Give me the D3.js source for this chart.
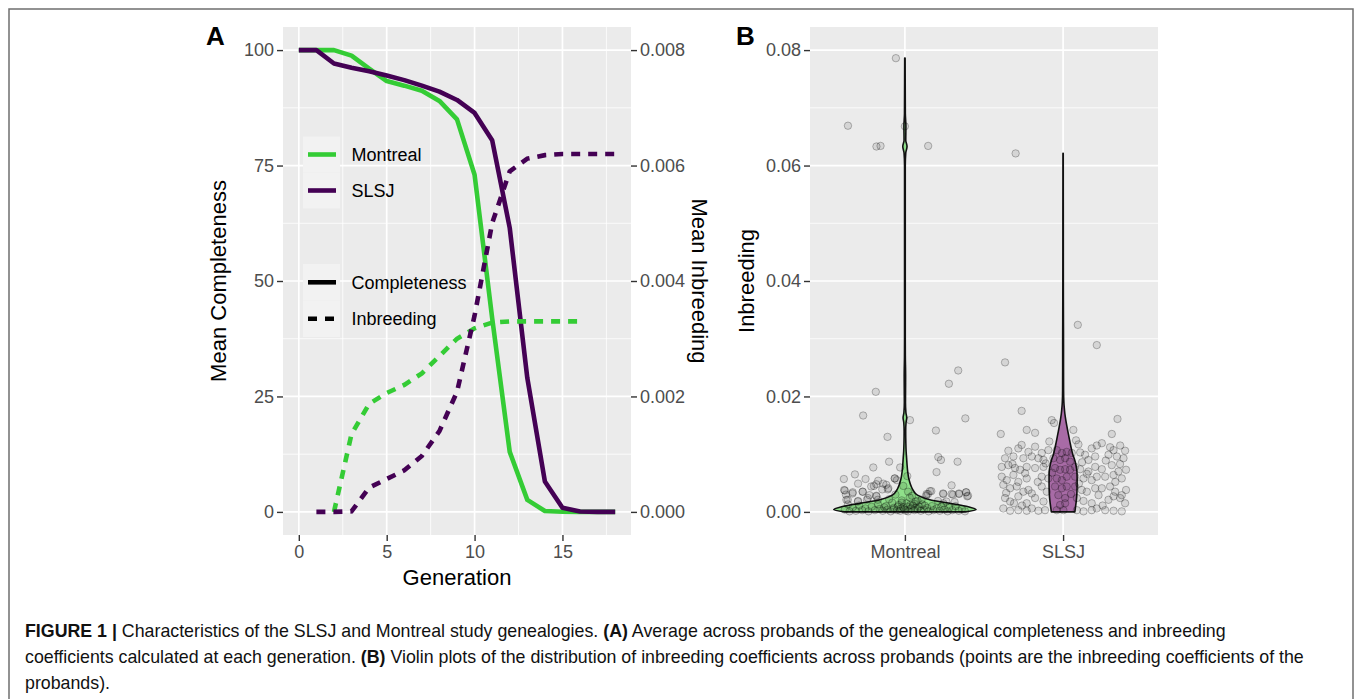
<!DOCTYPE html>
<html><head><meta charset="utf-8">
<script src="https://cdn.jsdelivr.net/npm/d3@7/dist/d3.min.js"></script>
<style>
body{margin:0;background:#fff;}
text{font-family:"Liberation Sans",Arial,Helvetica,sans-serif;}
</style>
</head><body>
<svg id="chart" width="1355" height="699"></svg>
<script>
// ---------------- DATA ----------------
const generations = [0,1,2,3,4,5,6,7,8,9,10,11,12,13,14,15,16,17,18];
const montrealCompleteness = [100,100,100,98.8,96,93.3,92.3,91.2,89,85,73,42,13,2.6,0.2,0.05,0,0,0];
const slsjCompleteness     = [100,100,97.1,96.2,95.4,94.5,93.5,92.3,91,89.2,86.4,80.5,61.5,29,6.6,0.9,0.1,0,0];
const montrealInbGen = [2,3,4,5,6,7,8,9,10,11,12,13,14,15,16];
const montrealInbreeding = [0,0.00135,0.00187,0.00206,0.0022,0.0024,0.0027,0.003,0.00318,0.00328,0.0033,0.0033,0.0033,0.0033,0.0033];
const slsjInbGen = [1,2,3,4,5,6,7,8,9,10,11,12,13,14,15,16,17,18];
const slsjInbreeding = [0,0,0.00001,0.00042,0.00057,0.00072,0.00097,0.0014,0.00208,0.0034,0.005,0.0059,0.00612,0.00618,0.0062,0.0062,0.0062,0.0062];

const xTicksA = [0,5,10,15];
const yTicksLeft = [0,25,50,75,100];
const yTicksRight = [0,0.002,0.004,0.006,0.008];
const yTicksB = [0,0.02,0.04,0.06,0.08];
const groups = ["Montreal","SLSJ"];

// violin profiles: inbreeding level and relative density width
const montrealViolinY = [0,0.0004,0.0009,0.0015,0.0021,0.0029,0.0038,0.0048,0.0058,0.007,0.0082,0.0093,0.0105,0.012,0.014,0.0155,0.0163,0.0172,0.019,0.021,0.0235,0.027,0.03,0.04,0.05,0.06,0.0622,0.0633,0.0644,0.0668,0.069,0.075,0.0786];
const montrealViolinW = [0.85,1.0,0.89,0.63,0.35,0.176,0.113,0.077,0.054,0.039,0.03,0.024,0.017,0.013,0.011,0.016,0.026,0.014,0.008,0.009,0.010,0.006,0.005,0.005,0.005,0.005,0.012,0.03,0.012,0.014,0.006,0.004,0.003];
const slsjViolinY = [0,0.001,0.002,0.003,0.004,0.005,0.006,0.007,0.008,0.009,0.01,0.011,0.012,0.013,0.014,0.015,0.016,0.017,0.018,0.019,0.021,0.025,0.029,0.033,0.04,0.05,0.0621];
const slsjViolinW = [0.165,0.176,0.186,0.193,0.196,0.197,0.197,0.194,0.183,0.163,0.135,0.115,0.098,0.082,0.066,0.051,0.037,0.025,0.017,0.011,0.007,0.006,0.006,0.005,0.0035,0.003,0.002];

// jittered probands: [jitter offset, inbreeding]
const montrealPoints = [
[-0.36,0.0669],[-0.18,0.0633],[-0.154,0.0634],[-0.057,0.0786],[0.0,0.0668],[0.147,0.0634],
[-0.184,0.0208],[-0.264,0.0167],[-0.11,0.013],[0.278,0.0222],[0.337,0.0245],[0.382,0.0162],[0.032,0.0159],[0.196,0.0141],
[0.211,0.0095],[0.228,0.009],[0.333,0.0087],[0.2,0.0069],[0.295,0.0046],[-0.1,0.0087],[-0.2,0.0077],[-0.316,0.0065],
[-0.386,0.0057],[-0.249,0.0057],[-0.296,0.0049],[-0.169,0.0054],[-0.196,0.0045],[-0.137,0.0049],[-0.105,0.0041],[-0.063,0.0058],
[-0.38,0.0037],[-0.33,0.0034],[-0.268,0.0035],[-0.37,0.0021],[-0.296,0.0019],[-0.24,0.0021],[-0.18,0.0027],[0.137,0.0031],
[0.158,0.0036],[0.243,0.0031],[0.295,0.0031],[0.342,0.0031],[0.386,0.0034],[0.394,0.0027],[0.243,0.0015],[0.105,0.0021],[-0.03,0.0077],
[-0.213,0.0044],[-0.181,0.0048],[-0.118,0.0047],[-0.143,0.0039],[-0.065,0.0058],[-0.051,0.0055],[-0.384,0.0038],[-0.373,0.003],
[-0.331,0.0032],[-0.266,0.0035],[-0.224,0.0029],[-0.181,0.0028],[-0.108,0.0039],[0.146,0.0031],[0.167,0.0036],[0.241,0.0032],
[0.304,0.003],[0.342,0.0032],[0.388,0.0034],[0.399,0.0028],[-0.361,0.0021],[-0.297,0.0018],[-0.234,0.0024],[-0.171,0.0021],
[0.135,0.0028],[0.209,0.0019],[0.262,0.0018],[0.314,0.0017],
[-0.38,0.0004],[-0.35,0.0001],[-0.33,0.0008],[-0.31,0.0002],[-0.29,0.0011],[-0.27,0.0003],[-0.25,0.0006],[-0.23,0.0001],
[-0.21,0.0009],[-0.19,0.0003],[-0.17,0.0013],[-0.16,0.0005],[-0.14,0.0002],[-0.12,0.001],[-0.11,0.0004],[-0.09,0.0001],
[-0.08,0.0016],[-0.07,0.0007],[-0.05,0.0003],[-0.04,0.0012],[-0.03,0.0002],[-0.02,0.002],[-0.01,0.0008],[0.0,0.0004],
[0.01,0.0015],[0.02,0.0001],[0.03,0.0025],[0.04,0.0006],[0.05,0.0011],[0.06,0.0003],[0.07,0.0018],[0.08,0.0005],
[0.09,0.0009],[0.1,0.0002],[0.11,0.0013],[0.12,0.0004],[0.14,0.0007],[0.15,0.0001],[0.17,0.001],[0.18,0.0003],
[0.2,0.0006],[0.22,0.0002],[0.23,0.0009],[0.25,0.0004],[0.27,0.0001],[0.28,0.0007],[0.3,0.0003],[0.32,0.001],
[0.34,0.0002],[0.36,0.0005],[0.38,0.0001],[-0.36,0.0013],[-0.06,0.003],[0.02,0.0035],[-0.01,0.0045],[0.045,0.0028],
[0.015,0.0062],[-0.02,0.0016],[0.06,0.0014],[-0.1,0.0022],[0.08,0.0019],[-0.045,0.0009],[0.035,0.0012],[-0.075,0.0004],
[0.065,0.0007],[-0.025,0.0006],[0.015,0.0009],[-0.13,0.0008],[0.125,0.0011],[0.005,0.0002]
];
const slsjPoints = [
[-0.30,0.0621],[0.093,0.0324],[0.213,0.0289],[-0.367,0.0259],[-0.262,0.0175],[0.344,0.0161],[-0.394,0.0135],[-0.23,0.0142],
[-0.177,0.0137],[-0.072,0.0159],[-0.057,0.0154],[0.065,0.0142],[0.308,0.0135],[0.082,0.0124],[0.097,0.0117],[-0.087,0.0122],
[-0.346,0.0106],[-0.283,0.011],[-0.262,0.0116],[-0.219,0.0104],[-0.177,0.0113],[-0.135,0.0102],[-0.093,0.0107],
[0.181,0.011],[0.213,0.0115],[0.245,0.0119],[0.297,0.0112],[0.319,0.0107],[0.361,0.0115],[0.392,0.0106],
[0.203,0.0096],[0.287,0.0099],[0.34,0.0096],[0.382,0.0093],
[-0.367,0.0093],[-0.314,0.0096],[-0.251,0.0093],[-0.198,0.0096],[-0.156,0.0093],[-0.124,0.009],[-0.061,0.0093],
[0.055,0.0102],[0.108,0.0103],[0.139,0.0099],[0.16,0.009],
[-0.388,0.0078],[-0.346,0.0081],[-0.304,0.0076],[-0.272,0.0073],[-0.23,0.0078],[-0.177,0.0076],[-0.124,0.0078],
[0.076,0.0078],[0.108,0.0074],[0.16,0.007],[0.203,0.0078],[0.245,0.0074],[0.308,0.0081],[0.35,0.007],[0.398,0.0073],
[-0.388,0.0061],[-0.356,0.0055],[-0.314,0.0064],[-0.283,0.0052],[-0.23,0.0058],[-0.135,0.0061],[-0.093,0.0058],
[0.076,0.0061],[0.129,0.0058],[0.181,0.0055],[0.213,0.0061],[0.266,0.0061],[0.319,0.0064],[0.371,0.0058],
[-0.378,0.0047],[-0.335,0.0041],[-0.293,0.0044],[-0.251,0.0035],[-0.219,0.0038],[-0.198,0.0032],[-0.135,0.0044],[-0.103,0.0035],
[0.076,0.0044],[0.118,0.0038],[0.15,0.0035],[0.203,0.0041],[0.245,0.0041],[0.297,0.0044],[0.329,0.0035],[0.371,0.0029],[0.398,0.0038],
[-0.367,0.0024],[-0.335,0.0018],[-0.283,0.0027],[-0.23,0.0015],[-0.177,0.0024],[-0.124,0.0018],
[0.087,0.0024],[0.129,0.0019],[0.181,0.0015],[0.224,0.0029],[0.287,0.0021],[0.319,0.0027],[0.361,0.0024],[0.392,0.0015],
[-0.378,0.0006],[-0.335,0.0002],[-0.283,0.0003],[-0.23,0.0002],[-0.198,0.0006],[-0.156,0.0002],[-0.114,0.0003],
[0.087,0.0003],[0.129,0.0001],[0.181,0.0003],[0.213,0.0006],[0.266,0.0003],[0.319,0.0002],[0.371,0.0001],
[-0.04,0.0107],[-0.008,0.0102],[0.023,0.0104],[-0.019,0.009],[0.013,0.0093],[0.044,0.0087],[-0.051,0.0076],[-0.019,0.0073],
[0.013,0.0074],[0.044,0.0073],[-0.04,0.0058],[-0.008,0.0055],[0.023,0.0061],[-0.051,0.0044],[-0.008,0.0041],[0.023,0.0044],
[-0.03,0.0029],[0.013,0.0024],[-0.019,0.0012],[0.013,0.0015],[-0.04,0.0003],[0.002,0.0003],
[-0.32,0.0083],[-0.24,0.0067],[-0.16,0.0052],[-0.07,0.0068],[0.12,0.0086],[0.27,0.0089],[0.33,0.0052],[-0.36,0.0033],
[0.25,0.0011],[-0.26,0.0011],[0.15,0.0066],[-0.11,0.0084],[0.36,0.0083],[0.1,0.0049],[-0.31,0.0015],[0.05,0.0031]
];

// ---------------- DRAW ----------------
const svg = d3.select("#chart");
const green = "#34cc35", purple = "#440154";
const panelBg = "#ebebeb";

// outer frame
svg.append("path").attr("d","M9,705 L9,9 L1353,9 L1353,705").attr("fill","none").attr("stroke","#6f6f6f").attr("stroke-width",1.5);

// ---------- Panel A ----------
const A = {l:283, r:631, t:27, b:535};
const xA = d3.scaleLinear().domain([-0.9,18.9]).range([A.l,A.r]);
const yL = d3.scaleLinear().domain([-5,105]).range([A.b,A.t]);
const yR = d3.scaleLinear().domain([-0.0004,0.0084]).range([A.b,A.t]);

const gA = svg.append("g");
gA.append("rect").attr("x",A.l).attr("y",A.t).attr("width",A.r-A.l).attr("height",A.b-A.t).attr("fill",panelBg);
const minorXA = [2.5,7.5,12.5,17.5], minorYA = [12.5,37.5,62.5,87.5];
gA.selectAll(".mx").data(minorXA).enter().append("line").attr("x1",d=>xA(d)).attr("x2",d=>xA(d)).attr("y1",A.t).attr("y2",A.b).attr("stroke","#fff").attr("stroke-width",0.8);
gA.selectAll(".my").data(minorYA).enter().append("line").attr("y1",d=>yL(d)).attr("y2",d=>yL(d)).attr("x1",A.l).attr("x2",A.r).attr("stroke","#fff").attr("stroke-width",0.8);
gA.selectAll(".Mx").data(xTicksA).enter().append("line").attr("x1",d=>xA(d)).attr("x2",d=>xA(d)).attr("y1",A.t).attr("y2",A.b).attr("stroke","#fff").attr("stroke-width",1.7);
gA.selectAll(".My").data(yTicksLeft).enter().append("line").attr("y1",d=>yL(d)).attr("y2",d=>yL(d)).attr("x1",A.l).attr("x2",A.r).attr("stroke","#fff").attr("stroke-width",1.7);

// legend key backgrounds
const keyX = 303, keyW = 37;
[[136.5,36],[172.5,36],[264,36.5],[300.5,36.5]].forEach(k=>{
  gA.append("rect").attr("x",keyX).attr("y",k[0]).attr("width",keyW).attr("height",k[1]).attr("fill","#f2f2f2");
});

const lineC = d3.line().x(d=>xA(d[0])).y(d=>yL(d[1]));
const lineI = d3.line().x(d=>xA(d[0])).y(d=>yR(d[1]));
const LW = 4.6, DASH = "9,8";
gA.append("path").datum(generations.map((g,i)=>[g,montrealCompleteness[i]])).attr("d",lineC).attr("fill","none").attr("stroke",green).attr("stroke-width",LW).attr("stroke-linejoin","round");
gA.append("path").datum(generations.map((g,i)=>[g,slsjCompleteness[i]])).attr("d",lineC).attr("fill","none").attr("stroke",purple).attr("stroke-width",LW).attr("stroke-linejoin","round");
gA.append("path").datum(montrealInbGen.map((g,i)=>[g,montrealInbreeding[i]])).attr("d",lineI).attr("fill","none").attr("stroke",green).attr("stroke-width",LW).attr("stroke-dasharray",DASH);
gA.append("path").datum(slsjInbGen.map((g,i)=>[g,slsjInbreeding[i]])).attr("d",lineI).attr("fill","none").attr("stroke",purple).attr("stroke-width",LW).attr("stroke-dasharray",DASH);

// legends
const legItems = [
  {y:154.5, color:green, dash:null, label:"Montreal"},
  {y:190.5, color:purple, dash:null, label:"SLSJ"},
  {y:282.3, color:"#000", dash:null, label:"Completeness"},
  {y:318.8, color:"#000", dash:DASH, label:"Inbreeding"}
];
legItems.forEach(it=>{
  const ln = gA.append("line").attr("x1",308).attr("x2",336).attr("y1",it.y).attr("y2",it.y).attr("stroke",it.color).attr("stroke-width",LW);
  if(it.dash) ln.attr("stroke-dasharray",it.dash);
  gA.append("text").attr("x",351.5).attr("y",it.y).attr("dy","0.35em").attr("font-size",18).attr("fill","#000").text(it.label);
});

function styleAxis(g){
  g.select(".domain").remove();
  g.selectAll(".tick line").attr("stroke","#333").attr("stroke-width",1.4);
  g.selectAll(".tick text").attr("fill","#4d4d4d").attr("font-size",18).attr("font-family","'Liberation Sans',Arial,sans-serif");
}
svg.append("g").attr("transform",`translate(${A.l},0)`).call(d3.axisLeft(yL).tickValues(yTicksLeft).tickSize(6).tickPadding(3)).call(styleAxis);
svg.append("g").attr("transform",`translate(${A.r},0)`).call(d3.axisRight(yR).tickValues(yTicksRight).tickSize(6).tickPadding(3).tickFormat(d3.format(".3f"))).call(styleAxis);
svg.append("g").attr("transform",`translate(0,${A.b})`).call(d3.axisBottom(xA).tickValues(xTicksA).tickSize(6).tickPadding(4)).call(styleAxis);

svg.append("text").attr("x",(A.l+A.r)/2).attr("y",585).attr("text-anchor","middle").attr("font-size",22).text("Generation");
svg.append("text").attr("transform",`translate(226,${(A.t+A.b)/2}) rotate(-90)`).attr("text-anchor","middle").attr("font-size",22).text("Mean Completeness");
svg.append("text").attr("transform",`translate(692,${(A.t+A.b)/2}) rotate(90)`).attr("text-anchor","middle").attr("font-size",22).text("Mean Inbreeding");
svg.append("text").attr("x",206).attr("y",45).attr("font-size",26).attr("font-weight","bold").text("A");

// ---------- Panel B ----------
const B = {l:810, r:1158, t:27, b:535};
const xB = d3.scalePoint().domain(groups).range([B.l,B.r]).padding(0.6);
const step = xB.step();
const yB = d3.scaleLinear().domain([-0.004,0.084]).range([B.b,B.t]);
const wScale = d3.scaleLinear().domain([0,1]).range([0,0.45*step]);

const gB = svg.append("g");
gB.append("rect").attr("x",B.l).attr("y",B.t).attr("width",B.r-B.l).attr("height",B.b-B.t).attr("fill",panelBg);
const minorYB = [0.01,0.03,0.05,0.07];
gB.selectAll(".my").data(minorYB).enter().append("line").attr("y1",d=>yB(d)).attr("y2",d=>yB(d)).attr("x1",B.l).attr("x2",B.r).attr("stroke","#fff").attr("stroke-width",0.8);
gB.selectAll(".My").data(yTicksB).enter().append("line").attr("y1",d=>yB(d)).attr("y2",d=>yB(d)).attr("x1",B.l).attr("x2",B.r).attr("stroke","#fff").attr("stroke-width",1.7);
gB.selectAll(".Mx").data(groups).enter().append("line").attr("x1",d=>xB(d)).attr("x2",d=>xB(d)).attr("y1",B.t).attr("y2",B.b).attr("stroke","#fff").attr("stroke-width",1.7);

function violin(cat, ys, ws, fill){
  const cx = xB(cat);
  const data = ys.map((v,i)=>[v,ws[i]]);
  const area = d3.area().y(d=>yB(d[0])).x0(d=>cx - wScale(d[1])).x1(d=>cx + wScale(d[1])).curve(d3.curveMonotoneY);
  gB.append("path").datum(data).attr("d",area).attr("fill",fill).attr("stroke","#111").attr("stroke-width",1.6).attr("stroke-linejoin","round");
}
violin("Montreal", montrealViolinY, montrealViolinW, "#8fe08a");
violin("SLSJ", slsjViolinY, slsjViolinW, "#a86ba6");

function pts(cat, arr){
  const cx = xB(cat);
  gB.selectAll(null).data(arr).enter().append("circle")
    .attr("cx",d=>cx + d[0]*step).attr("cy",d=>yB(d[1])).attr("r",3.7)
    .attr("fill","#000").attr("fill-opacity",0.09).attr("stroke","#000").attr("stroke-opacity",0.26).attr("stroke-width",1);
}
pts("Montreal", montrealPoints);
pts("SLSJ", slsjPoints);

svg.append("g").attr("transform",`translate(${B.l},0)`).call(d3.axisLeft(yB).tickValues(yTicksB).tickSize(6).tickPadding(3).tickFormat(d3.format(".2f"))).call(styleAxis);
svg.append("g").attr("transform",`translate(0,${B.b})`).call(d3.axisBottom(xB).tickSize(6).tickPadding(4)).call(styleAxis);
svg.append("text").attr("transform",`translate(754,${(B.t+B.b)/2}) rotate(-90)`).attr("text-anchor","middle").attr("font-size",22).text("Inbreeding");
svg.append("text").attr("x",736).attr("y",45).attr("font-size",26).attr("font-weight","bold").text("B");

// ---------- Caption ----------
const captionLines = [
  [["FIGURE 1 | ",true],["Characteristics of the SLSJ and Montreal study genealogies. ",false],["(A)",true],[" Average across probands of the genealogical completeness and inbreeding",false]],
  [["coefficients calculated at each generation. ",false],["(B)",true],[" Violin plots of the distribution of inbreeding coefficients across probands (points are the inbreeding coefficients of the",false]],
  [["probands).",false]]
];
const capY = [637,663,689];
captionLines.forEach((parts,i)=>{
  const t = svg.append("text").attr("x",25).attr("y",capY[i]).attr("font-size",17.8).attr("fill","#111").attr("xml:space","preserve");
  parts.forEach(p=>t.append("tspan").attr("font-weight",p[1]?"bold":"normal").text(p[0]));
});
</script>
</body></html>
